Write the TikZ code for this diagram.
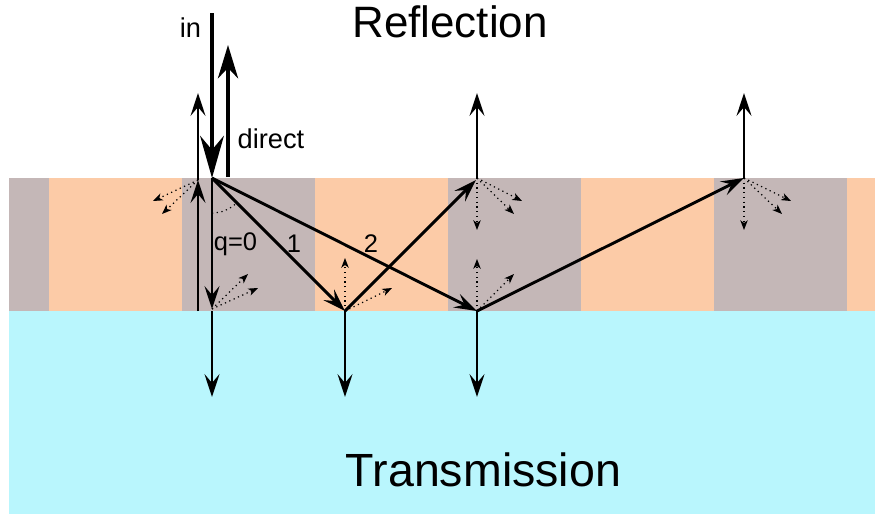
\documentclass[tikz,border=0pt]{standalone}
\usepackage{fontspec}
\setmainfont{Liberation Sans}
\usetikzlibrary{arrows.meta}
\definecolor{peach}{HTML}{FCCBA7}
\definecolor{grayband}{HTML}{C4B7B7}
\definecolor{substrate}{HTML}{B9F6FD}
\tikzset{
  ray/.style={line width=1.65pt, -{Stealth[length=13pt, width=8.5pt, inset=5pt]}},
  bigin/.style={line width=2.3pt, -{Stealth[length=24pt, width=13.5pt, inset=8pt]}},
  bigout/.style={line width=2.3pt, -{Stealth[length=19pt, width=11.5pt, inset=6pt]}},
  scatter/.style={line width=0.7pt, dotted, -{Stealth[length=5.5pt, width=4.2pt, inset=1.5pt]}},
  raytext/.style={font=\fontsize{14.5}{16}\selectfont, inner sep=0pt, anchor=base},
  bigtext/.style={font=\fontsize{25}{28}\selectfont, inner sep=0pt, anchor=base}
}

\begin{document}
\begin{tikzpicture}[x=0.02cm, y=-0.02cm]
  \useasboundingbox (0,0) rectangle (875,514);
  % layer and substrate
  \fill[substrate] (9,311) rectangle (875,514);
  \fill[peach] (9,178) rectangle (875,311);
  \fill[grayband] (9,178) rectangle (49,311);
  \foreach \x in {182,448,714}
    \fill[grayband] (\x,178) rectangle (\x+133,311);

  % hit points
  \coordinate (A) at (212,178);
  \coordinate (A0) at (212,311);
  \coordinate (B1) at (345,311);
  \coordinate (T2) at (477,178);
  \coordinate (B2) at (477,311);
  \coordinate (T3) at (744,178);
  % free ends
  \coordinate (inTop) at (212,13);
  \coordinate (directBot) at (228,177);
  \coordinate (directTop) at (228,45);
  \coordinate (sideBot) at (198,311);
  \coordinate (sideMid) at (198,180);
  \coordinate (sideTop) at (198,93);
  \coordinate (A0-t) at (212,397);
  \coordinate (B1-t) at (345,397);
  \coordinate (B2-t) at (477,397);
  \coordinate (T2-r) at (477,93);
  \coordinate (T3-r) at (744,93);
  \coordinate (qEnd) at (212,309);
  \coordinate (T2-in) at (476,180);

  % incoming and direct reflection
  \draw[bigin] (inTop) -- (A);
  \draw[bigout] (directBot) -- (directTop);
  \node[raytext, font=\fontsize{15.5}{17}\selectfont] (inlbl) at (190.5,37) {in};
  \node[raytext, font=\fontsize{15.5}{17}\selectfont] (directlbl) at (271,148) {direct};

  % side ray
  \draw[ray, line width=1.4pt] (sideBot) -- (sideMid);
  \draw[ray, line width=1.4pt] (sideMid) -- (sideTop);

  % rays in the layer
  \draw[ray] (A) -- (qEnd);
  \draw[ray] (A) -- (B1);
  \draw[ray] (A) -- (B2);
  \draw[ray] (B1) -- (T2-in);
  \draw[ray] (B2) -- (T3);
  \draw[ray] (T2) -- (T2-r);
  \draw[ray] (T3) -- (T3-r);
  \foreach \p in {A0,B1,B2}
    \draw[ray] (\p) -- (\p-t);

  \draw[dotted, line width=0.7pt] (A) ++(0,35) arc[start angle=90, end angle=45, radius=35];
  \node[raytext] (q0) at (235.5,250) {q=0};
  \node[raytext] (one) at (294,252) {1};
  \node[raytext] (two) at (371,252) {2};

  % scattered parts
  \coordinate (s1) at (153,201);
  \coordinate (s2) at (162,214);
  \coordinate (a1) at (248,274);
  \coordinate (a2) at (258,288);
  \coordinate (b1) at (345,258);
  \coordinate (b2) at (392,288);
  \coordinate (c1) at (477,230);
  \coordinate (c2) at (514,214);
  \coordinate (c3) at (522,201);
  \coordinate (d1) at (477,259);
  \coordinate (d2) at (514,274);
  \coordinate (e1) at (744,230);
  \coordinate (e2) at (782,214);
  \coordinate (e3) at (791,201);
  \foreach \o/\e in {sideMid/s1, sideMid/s2, qEnd/a1, qEnd/a2, B1/b1, B1/b2,
      T2/c1, T2/c2, T2/c3, B2/d1, B2/d2, T3/e1, T3/e2, T3/e3}
    \draw[scatter] (\o) -- (\e);

  \node[bigtext] (refl) at (450,37) {Reflection};
  \node[bigtext, font=\fontsize{26.5}{29}\selectfont] (trans) at (483.5,486) {Transmission};
\end{tikzpicture}
\end{document}
